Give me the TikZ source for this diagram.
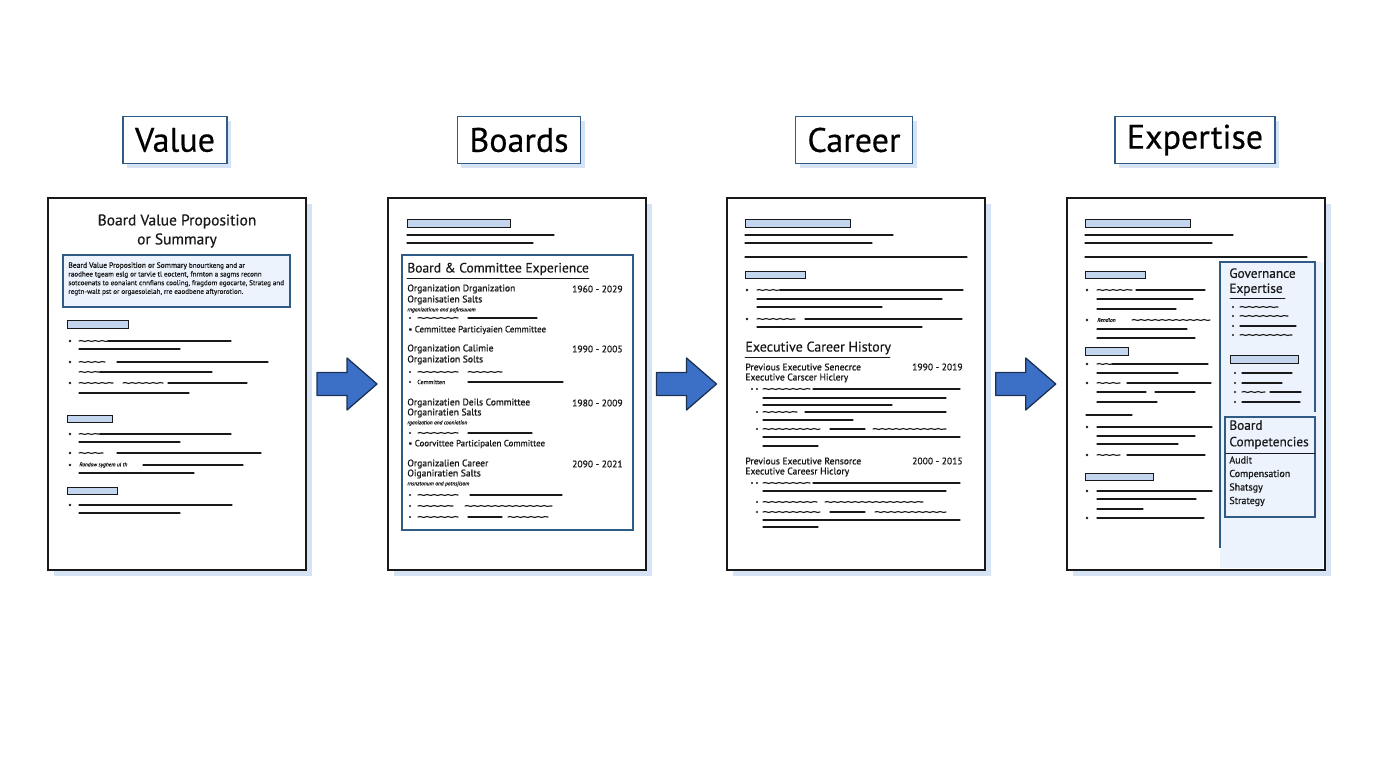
\documentclass[tikz,border=0pt]{standalone}
\usepackage{fontspec}
\setmainfont{PT Sans}[FakeBold=0.45]
\newfontfamily\labfont{PT Sans}[FakeBold=0.9]
\usetikzlibrary{calc,shadows,decorations.pathmorphing}

\definecolor{inkblue}{RGB}{47,91,134}
\definecolor{shadeblue}{RGB}{214,227,244}
\definecolor{barblue}{RGB}{196,214,238}
\definecolor{arrowblue}{RGB}{59,112,198}
\definecolor{arrowedge}{RGB}{28,50,84}
\definecolor{paneblue}{RGB}{236,243,252}
\definecolor{ink}{RGB}{25,25,25}

\tikzset{every picture/.style={line width=0.75pt}}
\tikzset{
  titlebox/.style={draw=inkblue, line width=1.4pt, fill=white, inner xsep=12pt, minimum height=47pt,
    font=\fontsize{34}{40}\selectfont, drop shadow={shadow xshift=4pt, shadow yshift=-4pt, fill=shadeblue, opacity=1}},
  pagebox/.style={draw=ink, line width=2pt, fill=white, minimum width=258pt, minimum height=372pt, inner sep=0pt,
    drop shadow={shadow xshift=6pt, shadow yshift=-6pt, fill=shadeblue, opacity=1}},
  bar/.style={draw=ink, line width=0.9pt, fill=barblue},
  txt/.style={draw=ink, line width=1.1pt, line cap=round},
  scrib/.style={txt, decorate, decoration={snake, amplitude=0.45pt, segment length=7pt}},
  panel/.style={draw=inkblue, line width=1.2pt},
  blockarrow/.style={draw=arrowedge, line width=1.3pt, fill=arrowblue, line join=round},
  lab/.style={anchor=west, inner sep=0pt, text=ink, font=\labfont\fontsize{9.6}{11}\selectfont},
  date/.style={anchor=east, inner sep=0pt, text=ink, font=\labfont\fontsize{9.6}{11}\selectfont},
  tiny/.style={anchor=west, inner sep=0pt, text=ink, font=\fontsize{5.5}{6}\itshape},
  head/.style={anchor=west, inner sep=0pt, text=ink, font=\fontsize{13.5}{15}\selectfont}
}

\begin{document}
\begin{tikzpicture}[x=1pt,y=1pt,yscale=-1,xscale=1]
	\path (0,0) rectangle (1376,768); %page 1376 x 768

	% Pages
	\node[pagebox] (pvalue) at (177,384) {};
	\node[pagebox] (pboards) at (517,384) {};
	\node[pagebox] (pcareer) at (856,384) {};
	\node[pagebox] (pexpert) at (1195.5,384) {};

	% Titles
	\node[titlebox] (tvalue) at (175,140) {Value};
	\node[titlebox] (tboards) at (519,140) {Boards};
	\node[titlebox] (tcareer) at (854,140) {Career};
	\node[titlebox] (texpert) at (1195,140) {Expertise};

	% Arrows between pages
	\draw[blockarrow, shift={($(pvalue.east)!0.5!(pboards.west)$)}] (-30,-11.5) -- (0,-11.5) -- (0,-26) -- (30,0) -- (0,26) -- (0,11.5) -- (-30,11.5) -- cycle;
	\draw[blockarrow, shift={($(pboards.east)!0.5!(pcareer.west)$)}] (-30,-11.5) -- (0,-11.5) -- (0,-26) -- (30,0) -- (0,26) -- (0,11.5) -- (-30,11.5) -- cycle;
	\draw[blockarrow, shift={($(pcareer.east)!0.5!(pexpert.west)$)}] (-30,-11.5) -- (0,-11.5) -- (0,-26) -- (30,0) -- (0,26) -- (0,11.5) -- (-30,11.5) -- cycle;

	%% Page 1 : Value
	% Text Node
	\node[align=center, inner sep=0pt, text=ink, font=\fontsize{15.5}{19}\selectfont] (vhead) at (177,231) {Board Value Proposition\\or Summary};
	%Shape: Rectangle
	\draw[panel, fill=paneblue] (63,255) rectangle (290,307);
	\node[anchor=north west, align=left, inner sep=0pt, text=ink, font=\fontsize{7.1}{8.7}\selectfont] (vblurb) at (68,262)
	  {{\labfont\fontsize{7.6}{8.7}\selectfont Beard Value Proposition or Sommary} bnourtkeng and ar\\
	   raodhee tgeam eslg or tarvle tl eoctent, fnrnton a sagms reconn\\
	   sotcoenats to eonaiant cnnfians cooling, fragdom egocarte, Strateg and\\
	   regtn-walt pst or orgaesolelah, rre eaodbene aftyrorotion.};
	% Section 1
	\draw[bar] (67,320) rectangle (128,328);
	\fill[ink] (70,341) circle (1.3);
	\draw[scrib] (79,341) -- (108,341); \draw[txt] (108,341) -- (231,341);
	\draw[txt] (79,349) -- (180,349);
	\fill[ink] (70,362) circle (1.3);
	\draw[scrib] (79,362) -- (105,362); \draw[txt] (117,362) -- (268,362);
	\draw[scrib] (79,372) -- (100,372); \draw[txt] (100,372) -- (212,372);
	\fill[ink] (70,383) circle (1.3);
	\draw[scrib] (79,383) -- (113,383); \draw[scrib] (123,383) -- (163,383); \draw[txt] (168,383) -- (247,383);
	\draw[txt] (79,393) -- (189,393);
	% Section 2
	\draw[bar] (67,415) rectangle (112,422);
	\fill[ink] (70,434) circle (1.3);
	\draw[scrib] (79,434) -- (100,434); \draw[txt] (100,434) -- (231,434);
	\draw[txt] (79,442) -- (180,442);
	\fill[ink] (70,453) circle (1.3);
	\draw[scrib] (79,453) -- (103,453); \draw[txt] (117,453) -- (261,453);
	\fill[ink] (70,465) circle (1.3);
	\node[tiny] (vnote) at (79,465) {Randow syghem ul th};
	\draw[txt] (143,465) -- (243,465);
	\draw[txt] (79,473) -- (194,473);
	% Section 3
	\draw[bar] (67,487) rectangle (117,494);
	\fill[ink] (70,505) circle (1.3);
	\draw[txt] (79,505) -- (232,505);
	\draw[txt] (79,513) -- (180,513);

	%% Page 2 : Boards
	\draw[bar] (407,219) rectangle (510,227);
	\draw[txt] (407,235) -- (554,235);
	\draw[txt] (407,243) -- (533,243);
	%Shape: Rectangle
	\draw[panel] (402,255) rectangle (633,530);
	\node[head] (bhead) at (407,269) {Board \& Committee Experience};
	\draw[txt, line width=0.9pt] (407,278) -- (589,278);
	% Entry 1
	\node[lab] (b1a) at (407,289) {Organization Drganization};
	\node[date] (b1d) at (623,289) {1960 - 2029};
	\node[lab] (b1b) at (407,300) {Organisatien Salts};
	\node[tiny] (b1c) at (407,310) {rnganizatinun and pofinsuuam};
	\fill[ink] (410,318) circle (1.1);
	\draw[scrib] (418,318) -- (458,318); \draw[txt] (468,318) -- (537,318);
	\node[lab, font=\labfont\fontsize{8.9}{10}\selectfont] (b1e) at (408,330) {\textbullet\ Cemmittee Particiyaien Cemmittee};
	% Entry 2
	\node[lab] (b2a) at (407,349) {Organization Calimie};
	\node[date] (b2d) at (623,349) {1990 - 2005};
	\node[lab] (b2b) at (407,360) {Organization Solts};
	\fill[ink] (410,372) circle (1.1);
	\draw[scrib] (418,372) -- (458,372); \draw[scrib] (468,372) -- (502,372);
	\fill[ink] (410,382) circle (1.1);
	\node[tiny, font=\fontsize{6}{7}\selectfont] (b2e) at (417,382) {Cemmitten};
	\draw[txt] (468,382) -- (563,382);
	% Entry 3
	\node[lab] (b3a) at (407,403) {Organizatien Deils Committee};
	\node[date] (b3d) at (623,403) {1980 - 2009};
	\node[lab] (b3b) at (407,413) {Organiratien Salts};
	\node[tiny] (b3c) at (407,423) {rganization and cooniation};
	\fill[ink] (410,433) circle (1.1);
	\draw[scrib] (418,433) -- (458,433); \draw[txt] (468,433) -- (532,433);
	\node[lab, font=\labfont\fontsize{8.9}{10}\selectfont] (b3e) at (408,444) {\textbullet\ Coorvittee Participalen Committee};
	% Entry 4
	\node[lab] (b4a) at (407,464) {Organizalien Career};
	\node[date] (b4d) at (623,464) {2090 - 2021};
	\node[lab] (b4b) at (407,474) {Oiganiratien Salts};
	\node[tiny] (b4c) at (407,484) {rnsnztonum and potnsjisam};
	\fill[ink] (410,495) circle (1.1);
	\draw[scrib] (418,495) -- (458,495); \draw[txt] (470,495) -- (562,495);
	\fill[ink] (410,506) circle (1.1);
	\draw[scrib] (418,506) -- (453,506); \draw[scrib] (465,506) -- (552,506);
	\fill[ink] (410,517) circle (1.1);
	\draw[scrib] (418,517) -- (458,517); \draw[txt] (468,517) -- (502,517); \draw[scrib] (508,517) -- (548,517);

	%% Page 3 : Career
	\draw[bar] (745,219) rectangle (850,227);
	\draw[txt] (745,235) -- (893,235);
	\draw[txt] (745,243) -- (872,243);
	\draw[txt] (745,257) -- (967,257);
	\draw[bar] (745,271) rectangle (805,278);
	\fill[ink] (747,290) circle (1.3);
	\draw[scrib] (757,290) -- (780,290); \draw[txt] (780,290) -- (963,290);
	\draw[txt] (757,299) -- (942,299);
	\draw[txt] (757,307) -- (882,307);
	\fill[ink] (747,319) circle (1.3);
	\draw[scrib] (757,319) -- (795,319); \draw[txt] (805,319) -- (962,319);
	\draw[txt] (757,327) -- (922,327);
	\node[head, font=\fontsize{14}{16}\selectfont] (chead) at (745,348) {Executive Career History};
	\draw[txt, line width=0.9pt] (745,357) -- (890,357);
	% Job 1
	\node[lab] (c1a) at (745,367) {Previous Executive Senecrce};
	\node[date] (c1d) at (963,367) {1990 - 2019};
	\node[lab] (c1b) at (745,378) {Executive Carscer Hiclery};
	\fill[ink] (752,389) circle (1.1); \fill[ink] (757,389) circle (1.1);
	\draw[scrib] (763,389) -- (810,389); \draw[txt] (813,389) -- (960,389);
	\draw[txt] (763,398) -- (946,398);
	\draw[txt] (763,405) -- (892,405);
	\fill[ink] (757,412) circle (1.1);
	\draw[scrib] (763,412) -- (797,412); \draw[txt] (805,412) -- (946,412);
	\draw[txt] (763,420) -- (853,420);
	\fill[ink] (757,429) circle (1.1);
	\draw[scrib] (763,429) -- (820,429); \draw[txt] (830,429) -- (865,429); \draw[scrib] (873,429) -- (946,429);
	\draw[txt] (763,437) -- (960,437);
	\draw[txt] (763,446) -- (818,446);
	% Job 2
	\node[lab] (c2a) at (745,461) {Previous Executive Rensorce};
	\node[date] (c2d) at (963,461) {2000 - 2015};
	\node[lab] (c2b) at (745,472) {Executive Careesr Hiclory};
	\fill[ink] (752,483) circle (1.1); \fill[ink] (757,483) circle (1.1);
	\draw[scrib] (763,483) -- (810,483); \draw[txt] (813,483) -- (960,483);
	\draw[txt] (763,491) -- (946,491);
	\fill[ink] (757,502) circle (1.1);
	\draw[scrib] (763,502) -- (817,502); \draw[scrib] (825,502) -- (923,502);
	\fill[ink] (757,512) circle (1.1);
	\draw[scrib] (763,512) -- (820,512); \draw[txt] (830,512) -- (865,512); \draw[scrib] (875,512) -- (946,512);
	\draw[txt] (763,520) -- (960,520);
	\draw[txt] (763,527) -- (818,527);

	%% Page 4 : Expertise
	%Shape: Side panel
	\fill[paneblue] (1220,262) rectangle (1323,568);
	\draw[bar] (1085,219) rectangle (1190,227);
	\draw[txt] (1085,235) -- (1233,235);
	\draw[txt] (1085,243) -- (1212,243);
	\draw[txt] (1085,257) -- (1307,257);
	% left column
	\draw[bar] (1085,271) rectangle (1145,278);
	\fill[ink] (1087,290) circle (1.3);
	\draw[scrib] (1097,290) -- (1132,290); \draw[txt] (1136,290) -- (1205,290);
	\draw[txt] (1097,299) -- (1193,299);
	\draw[txt] (1097,309) -- (1176,309);
	\fill[ink] (1087,320) circle (1.3);
	\node[tiny] (enote) at (1097,320) {Rendlon};
	\draw[scrib] (1132,320) -- (1210,320);
	\draw[txt] (1097,329) -- (1187,329);
	\draw[txt] (1097,338) -- (1195,338);
	\draw[bar] (1085,347) rectangle (1128,355);
	\fill[ink] (1087,364) circle (1.3);
	\draw[scrib] (1097,364) -- (1112,364); \draw[txt] (1112,364) -- (1208,364);
	\draw[txt] (1097,373) -- (1178,373);
	\fill[ink] (1087,383) circle (1.3);
	\draw[scrib] (1097,383) -- (1120,383); \draw[txt] (1127,383) -- (1211,383);
	\draw[txt] (1097,392) -- (1146,392); \draw[txt] (1155,392) -- (1195,392);
	\draw[txt] (1097,402) -- (1157,402);
	\draw[txt] (1086,415) -- (1132,415);
	\fill[ink] (1087,427) circle (1.3);
	\draw[txt] (1097,427) -- (1212,427);
	\draw[txt] (1097,436) -- (1195,436);
	\draw[txt] (1097,444) -- (1178,444);
	\fill[ink] (1087,455) circle (1.3);
	\draw[scrib] (1097,455) -- (1120,455); \draw[txt] (1127,455) -- (1205,455);
	\draw[bar] (1085,473) rectangle (1153,480);
	\fill[ink] (1087,491) circle (1.3);
	\draw[txt] (1097,491) -- (1212,491);
	\draw[txt] (1097,499) -- (1196,499);
	\draw[txt] (1097,509) -- (1143,509);
	\fill[ink] (1087,518) circle (1.3);
	\draw[txt] (1097,518) -- (1204,518);
	% right panel
	\draw[panel] (1220,548) -- (1220,262) -- (1315,262) -- (1315,412);
	\node[anchor=north west, align=left, inner sep=0pt, text=ink, font=\fontsize{13.3}{15}\selectfont] (egov) at (1229,268) {Governance\\Expertise};
	\draw[txt, line width=0.9pt] (1230,298) -- (1285,298);
	\fill[ink] (1233,307) circle (1.1); \draw[scrib] (1240,307) -- (1278,307);
	\fill[ink] (1233,316) circle (1.1); \draw[scrib] (1240,316) -- (1288,316);
	\fill[ink] (1233,326) circle (1.1); \draw[txt] (1240,326) -- (1296,326);
	\fill[ink] (1233,335) circle (1.1); \draw[scrib] (1240,335) -- (1292,335);
	\draw[bar] (1230,355) rectangle (1298,363);
	\fill[ink] (1235,373) circle (1.1); \draw[txt] (1242,373) -- (1292,373);
	\fill[ink] (1235,383) circle (1.1); \draw[txt] (1242,383) -- (1282,383);
	\fill[ink] (1235,392) circle (1.1); \draw[scrib] (1242,392) -- (1265,392); \draw[txt] (1270,392) -- (1301,392);
	\fill[ink] (1235,402) circle (1.1); \draw[txt] (1242,402) -- (1300,402);
	%Shape: Rectangle
	\draw[panel] (1225,417) rectangle (1315,517);
	\node[anchor=north west, align=left, inner sep=0pt, text=ink, font=\fontsize{13.3}{16.5}\selectfont] (ecomp) at (1229,420) {Board\\Competencies};
	\draw[txt, line width=0.9pt] (1226,453) -- (1315,453);
	\node[anchor=north west, align=left, inner sep=0pt, text=ink, font=\labfont\fontsize{10}{13.5}\selectfont] (elist) at (1229,456) {Audit\\Compensation\\Shatsgy\\Strategy};

\end{tikzpicture}
\end{document}
